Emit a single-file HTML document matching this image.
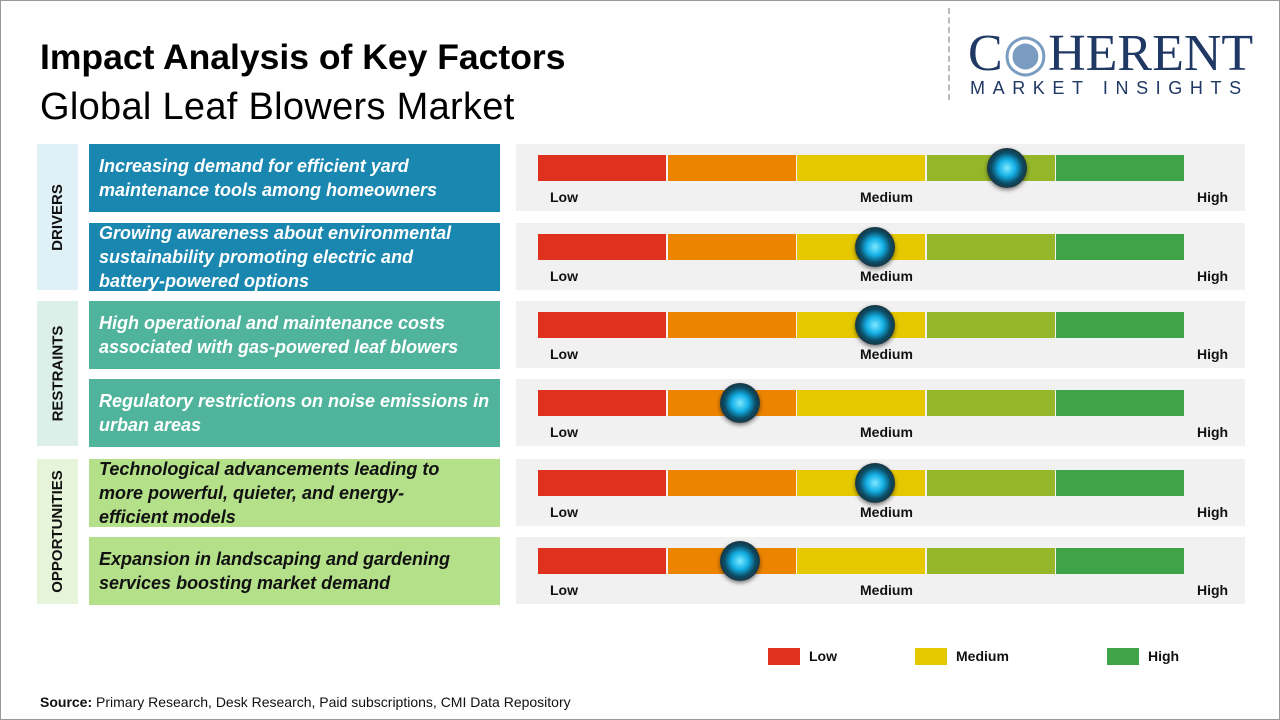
<!DOCTYPE html>
<html><head><meta charset="utf-8"><style>
body{margin:0;width:1280px;height:720px;background:#fff;font-family:"Liberation Sans",sans-serif;position:relative;overflow:hidden}
.frame{position:absolute;left:0;top:0;width:1278px;height:718px;border:1px solid #999}
.abs{position:absolute}
.cat{position:absolute;left:37px;width:41px;display:flex;align-items:center;justify-content:center}
.cat span{transform:rotate(-90deg);white-space:nowrap;font-weight:bold;font-size:15px;color:#111}
.txt{position:absolute;left:89px;width:401px;padding:0 0 0 10px;height:68px;display:flex;align-items:center;font-weight:bold;font-style:italic;font-size:18px;line-height:24px;color:#fff;white-space:nowrap;letter-spacing:0}
.panel{position:absolute;left:516px;width:729px;height:67px;background:#f1f1f1}
.lbl{position:absolute;font-weight:bold;font-size:14px;color:#111}
</style></head><body>
<div class="frame"></div>
<div class="abs" style="left:40px;top:37px;font-size:35.5px;font-weight:bold;color:#000">Impact Analysis of Key Factors</div>
<div class="abs" style="left:40px;top:86px;font-size:38px;color:#000;letter-spacing:0.3px">Global Leaf Blowers Market</div>
<div class="abs" style="left:948px;top:8px;height:92px;border-left:2px dashed #bbb"></div>
<div class="abs" style="left:968px;top:28px;font-family:'Liberation Serif',serif;font-size:52px;color:#1f3864;letter-spacing:0px;line-height:52px">C<span style="color:#7a9cc0">◉</span>HERENT</div>
<div class="abs" style="left:970px;top:78px;font-size:18px;color:#1f3864;letter-spacing:7.6px">MARKET INSIGHTS</div>

<div class="cat" style="top:144px;height:146px;background:#dff0f7"><span>DRIVERS</span></div>
<div class="cat" style="top:301px;height:145px;background:#dcefe9"><span>RESTRAINTS</span></div>
<div class="cat" style="top:459px;height:145px;background:#e6f4d9"><span>OPPORTUNITIES</span></div>

<div id="rows"></div>

<div class="abs" style="left:768px;top:648px;width:32px;height:17px;background:#e0301e"></div>
<div class="lbl" style="left:809px;top:648px">Low</div>
<div class="abs" style="left:915px;top:648px;width:32px;height:17px;background:#e6c800"></div>
<div class="lbl" style="left:956px;top:648px">Medium</div>
<div class="abs" style="left:1107px;top:648px;width:32px;height:17px;background:#3fa447"></div>
<div class="lbl" style="left:1148px;top:648px">High</div>

<div class="abs" style="left:40px;top:694px;font-size:14px;color:#111"><b>Source:</b> Primary Research, Desk Research, Paid subscriptions, CMI Data Repository</div>

<script>
const factors=[["Increasing demand for efficient yard","maintenance tools among homeowners"],["Growing awareness about environmental","sustainability promoting electric and","battery-powered options"],["High operational and maintenance costs","associated with gas-powered leaf blowers"],["Regulatory restrictions on noise emissions in","urban areas"],["Technological advancements leading to","more powerful, quieter, and energy-","efficient models"],["Expansion in landscaping and gardening","services boosting market demand"]];
const impact=[3.62,2.6,2.6,1.56,2.6,1.56];
const rowTops=[144,223,301,379,459,537];
const rowColors=["#1a87b0","#1a87b0","#4fb49b","#4fb49b","#b4e08a","#b4e08a"];
const textColors=["#fff","#fff","#fff","#fff","#111","#111"];
const segColors=["#e0301e","#ed8400","#e6c800","#96b62a","#3fa447"];
const barX0=538,barW=648,maxV=5;
const xs=v=>barX0+v/maxV*barW;
const root=document.getElementById('rows');
factors.forEach((f,i)=>{
  const t=rowTops[i];
  const tx=document.createElement('div');tx.className='txt';tx.style.top=t+'px';tx.style.background=rowColors[i];tx.style.color=textColors[i];
  const inner=document.createElement('div');
  f.forEach((line,j)=>{if(j)inner.appendChild(document.createElement('br'));inner.appendChild(document.createTextNode(line));});
  tx.appendChild(inner);
  
  
  root.appendChild(tx);
  const p=document.createElement('div');p.className='panel';p.style.top=t+'px';
  
  
  root.appendChild(p);
  segColors.forEach((c,j)=>{
    const s=document.createElement('div');s.className='abs';
    s.style.cssText=`left:${xs(j)}px;top:${t+11}px;width:${barW/5-1.5}px;height:26px;background:${c}`;
    
    
    root.appendChild(s);
  });
  [["Low",550],["Medium",860],["High",1197]].forEach(([l,x])=>{
    const d=document.createElement('div');d.className='lbl';d.textContent=l;d.style.left=x+'px';d.style.top=(t+45)+'px';
    
    
    root.appendChild(d);
  });
  const k=document.createElement('div');k.className='abs';
  const cx=xs(impact[i]);
  k.style.cssText=`left:${cx-20}px;top:${t+4}px;width:40px;height:40px;border-radius:50%;background:radial-gradient(circle at 50% 50%,#7fe8ff 0,#14b0e6 30%,#0b4d66 55%,#1d2f38 75%,#0f1a20 100%);box-shadow:0 2px 4px rgba(0,0,0,.5)`;
  
  
  root.appendChild(k);
});
</script>
</body></html>
